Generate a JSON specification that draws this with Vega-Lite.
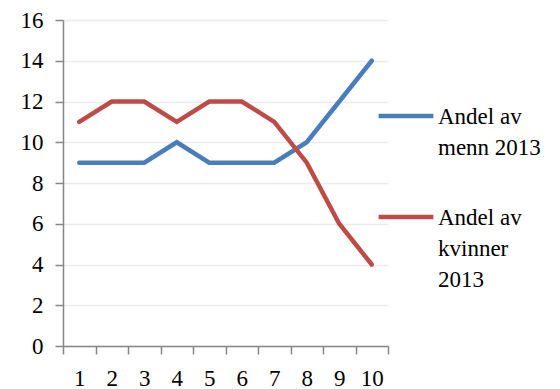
{
  "$schema": "https://vega.github.io/schema/vega-lite/v6.json",
  "width": 325,
  "height": 326,
  "autosize": {"type": "none"},
  "padding": {"left": 63, "top": 20, "right": 172, "bottom": 43},
  "background": "white",
  "config": {
    "view": {"stroke": null},
    "font": "Liberation Serif",
    "style": {"guide-label": {"lineHeight": 31, "dy": 8}}
  },
  "data": {
    "values": [
      {"x": "1", "serie": "Andel av menn 2013", "v": 9},
      {"x": "2", "serie": "Andel av menn 2013", "v": 9},
      {"x": "3", "serie": "Andel av menn 2013", "v": 9},
      {"x": "4", "serie": "Andel av menn 2013", "v": 10},
      {"x": "5", "serie": "Andel av menn 2013", "v": 9},
      {"x": "6", "serie": "Andel av menn 2013", "v": 9},
      {"x": "7", "serie": "Andel av menn 2013", "v": 9},
      {"x": "8", "serie": "Andel av menn 2013", "v": 10},
      {"x": "9", "serie": "Andel av menn 2013", "v": 12},
      {"x": "10", "serie": "Andel av menn 2013", "v": 14},
      {"x": "1", "serie": "Andel av kvinner 2013", "v": 11},
      {"x": "2", "serie": "Andel av kvinner 2013", "v": 12},
      {"x": "3", "serie": "Andel av kvinner 2013", "v": 12},
      {"x": "4", "serie": "Andel av kvinner 2013", "v": 11},
      {"x": "5", "serie": "Andel av kvinner 2013", "v": 12},
      {"x": "6", "serie": "Andel av kvinner 2013", "v": 12},
      {"x": "7", "serie": "Andel av kvinner 2013", "v": 11},
      {"x": "8", "serie": "Andel av kvinner 2013", "v": 9},
      {"x": "9", "serie": "Andel av kvinner 2013", "v": 6},
      {"x": "10", "serie": "Andel av kvinner 2013", "v": 4}
    ]
  },
  "mark": {"type": "line", "strokeWidth": 4.5, "strokeCap": "round", "strokeJoin": "miter"},
  "encoding": {
    "x": {
      "field": "x",
      "type": "ordinal",
      "sort": ["1", "2", "3", "4", "5", "6", "7", "8", "9", "10"],
      "scale": {"paddingInner": 0, "paddingOuter": 0},
      "axis": {
        "title": null,
        "labelAngle": 0,
        "tickBand": "extent",
        "grid": false,
        "domainColor": "#868686",
        "domainWidth": 1.5,
        "tickColor": "#868686",
        "tickWidth": 1.5,
        "tickSize": 8,
        "labelPadding": 5,
        "labelFontSize": 23,
        "labelColor": "#000000",
        "labelFont": "Liberation Serif"
      }
    },
    "y": {
      "field": "v",
      "type": "quantitative",
      "scale": {"domain": [0, 16], "nice": false},
      "axis": {
        "title": null,
        "values": [0, 2, 4, 6, 8, 10, 12, 14, 16],
        "gridColor": "#ebebeb",
        "gridWidth": 1.5,
        "domainColor": "#868686",
        "domainWidth": 1.5,
        "tickColor": "#868686",
        "tickWidth": 1.5,
        "tickSize": 8,
        "labelPadding": 12,
        "labelOffset": -8,
        "labelFontSize": 23,
        "labelColor": "#000000",
        "labelFont": "Liberation Serif"
      }
    },
    "color": {
      "field": "serie",
      "type": "nominal",
      "scale": {
        "domain": ["Andel av menn 2013", "Andel av kvinner 2013"],
        "range": ["#4a7ebb", "#be4b48"]
      },
      "legend": {
        "title": null,
        "orient": "none",
        "legendX": 313,
        "legendY": 66,
        "symbolType": "stroke",
        "symbolSize": 3000,
        "symbolStrokeWidth": 4.5,
        "labelFontSize": 23,
        "labelColor": "#000000",
        "labelFont": "Liberation Serif",
        "labelBaseline": "alphabetic",
        "labelOffset": 2,
        "labelLimit": 200,
        "rowPadding": 27,
        "labelExpr": "datum.label == 'Andel av menn 2013' ? ['Andel av', 'menn 2013'] : ['Andel av', 'kvinner', '2013']"
      }
    }
  }
}
